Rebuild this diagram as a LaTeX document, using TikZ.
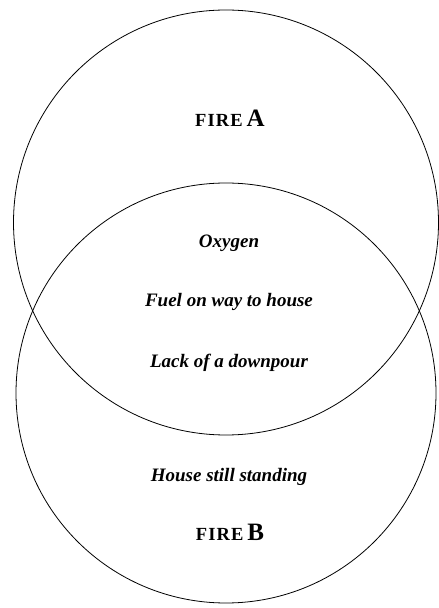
\documentclass[tikz,border=0pt]{standalone}
\usepackage{fontspec}
\setmainfont{Liberation Serif}
\newfontfamily\firefont[LetterSpace=6]{Liberation Serif}
\begin{document}
\begin{tikzpicture}[x=1pt,y=1pt]
                    \tikzset{
                        ring/.style={draw, circle, inner sep=0pt, line width=0.8pt},
                        fire/.style={font=\bfseries},
                        cause/.style={font=\fontsize{19}{22}\selectfont\bfseries\itshape}
                    }
                    \useasboundingbox (0,0) rectangle (439,608);
                    \draw node[ring, minimum size=425pt] (ringA) at (226,385.5) {};
                    \draw node[ring, minimum size=420pt] (ringB) at (226,215) {};
                    \draw node[fire] (fireA) at (230,490) {{\firefont\fontsize{18.5}{20}\selectfont FIRE}\hspace{4pt}{\fontsize{25}{28}\selectfont A}};
                    \draw node[cause] (oxygen) at (229,365) {Oxygen};
                    \draw node[cause] (fuel) at (229,306) {Fuel on way to house};
                    \draw node[cause] (rain) at (229,245) {Lack of a downpour};
                    \draw node[cause] (house) at (229,131) {House still standing};
                    \draw node[fire] (fireB) at (230,76) {{\firefont\fontsize{18.5}{20}\selectfont FIRE}\hspace{4pt}{\fontsize{25}{28}\selectfont B}};
                    \end{tikzpicture}
\end{document}
